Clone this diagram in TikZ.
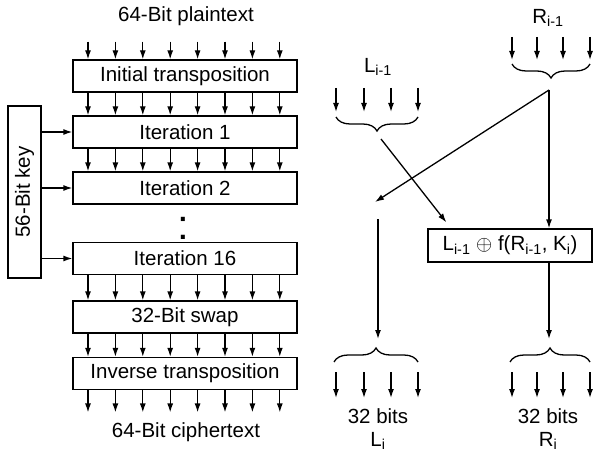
\documentclass[tikz,border=0pt]{standalone}
\usepackage{fontspec}
\setsansfont{Liberation Sans}
\usetikzlibrary{arrows.meta,positioning,calc,decorations.pathreplacing}

\begin{document}
\begin{tikzpicture}[
  x=1pt, y=-1pt,
  font=\sffamily\fontsize{20.5}{23}\selectfont,
  >={Latex[length=9pt,width=6pt]},
  line width=1.3pt,
  stagebox/.style={
    draw,
    minimum width=224pt,
    minimum height=32pt,
    inner sep=0pt
  },
  bitarrow/.style={->},
  bitbrace/.style={decorate, decoration={brace, amplitude=14pt}}
]
  \useasboundingbox (0,0) rectangle (596,457);

  % Left column: the DES pipeline
  \node (plain) at (186,16) {64-Bit plaintext};
  \node[stagebox] (init) at (185,76) {Initial transposition};
  \node[stagebox] (it1) at (185,132) {Iteration 1};
  \node[stagebox] (it2) at (185,188) {Iteration 2};
  \node (dots) at (183,228) {\fontsize{42}{42}\selectfont :};
  \node[stagebox] (it16) at (185,258.5) {Iteration 16};
  \node[stagebox] (swap) at (185,317) {32-Bit swap};
  \node[stagebox] (inv) at (185,373.5) {Inverse transposition};
  \node (cipher) at (186,432) {64-Bit ciphertext};

  % Key box, text rotated
  \node[draw, rotate=90, minimum width=172pt, minimum height=33pt, inner sep=0pt] (key) at (24.5,192) {56-Bit key};
  \foreach \stage in {it1,it2,it16}
    \draw[bitarrow] (key.south |- \stage.west) -- (\stage.west);

  % 64 bit lanes
  \foreach \x in {88,115.4,142.8,170.2,197.6,225,252.4,279.8} {
    \draw[bitarrow] ($(\x,0 |- plain.south)+(0,12)$) -- (\x,0 |- init.north);
    \foreach \a/\b in {init/it1,it1/it2,it16/swap,swap/inv}
      \draw[bitarrow] (\x,0 |- \a.south) -- (\x,0 |- \b.north);
    \draw[bitarrow] (\x,0 |- inv.south) -- ($(\x,0 |- cipher.north)+(0,-6)$);
  }

  % Right side: one round
  \node (lprev) at (378,67) {L\textsubscript{i-1}};
  \node (rprev) at (548,18) {R\textsubscript{i-1}};
  \node[draw, minimum width=164pt, minimum height=33pt, inner sep=0pt] (fbox) at (510,245.5)
    {L\textsubscript{i-1} $\oplus$ f(R\textsubscript{i-1}, K\textsubscript{i})};
  \node[align=center] (lout) at (378,429) {32 bits\\L\textsubscript{i}};
  \node[align=center] (rout) at (548,429) {32 bits\\R\textsubscript{i}};

  \coordinate (lbl) at (336,117);
  \coordinate (lbr) at (418,117);
  \coordinate (ltip) at (381,139);
  \coordinate (rbl) at (512,64);
  \coordinate (rbr) at (590,64);
  \coordinate (rtip) at (549,90);
  \coordinate (lcross) at (375,202);
  \coordinate (lnew) at (378,219);
  \coordinate (lnewtip) at (378,339);
  \coordinate (rnewtip) at (549,339);
  \coordinate (lobl) at (334,362);
  \coordinate (lobr) at (418,362);
  \coordinate (robl) at (510,362);
  \coordinate (robr) at (590,362);

  % Input and output half-words
  \foreach \x in {336,364,391,418} {
    \draw[bitarrow] ($(\x,0 |- lbl)+(0,-29)$) -- ($(\x,0 |- lbl)+(0,-5)$);
    \draw[bitarrow] ($(\x,0 |- lobl)+(0,10)$) -- ($(\x,0 |- lobl)+(0,36)$);
  }
  \foreach \x in {512,537,563,590} {
    \draw[bitarrow] ($(\x,0 |- rbl)+(0,-27)$) -- ($(\x,0 |- rbl)+(0,-4)$);
    \draw[bitarrow] ($(\x,0 |- robl)+(0,10)$) -- ($(\x,0 |- robl)+(0,36)$);
  }
  \draw[bitbrace] (lbr) -- (lbl);
  \draw[bitbrace] (rbr) -- (rbl);
  \draw[bitbrace] (lobl) -- (lobr);
  \draw[bitbrace] (robl) -- (robr);

  % Crossing paths
  \draw[->] (rtip) -- (rtip |- fbox.north);
  \draw[->] (rtip) -- (lcross);
  \draw[->] (ltip) -- ($(fbox.north west)+(19,-6)$);
  \draw[->] (lnew) -- (lnewtip);
  \draw[->] (rtip |- fbox.south) -- (rnewtip);

\end{tikzpicture}
\end{document}
